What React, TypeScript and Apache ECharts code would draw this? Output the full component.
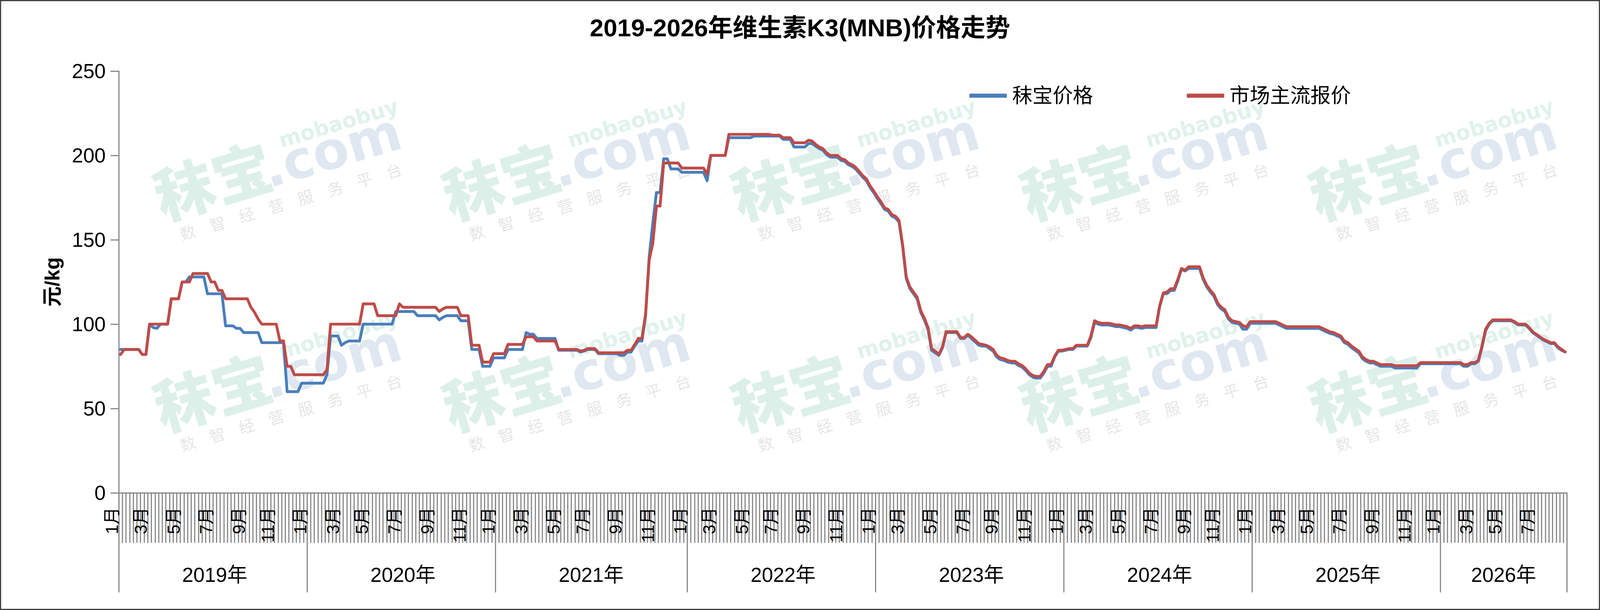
import React, { useEffect, useRef } from 'react';
import * as echarts from 'echarts';

const FONT = "'Liberation Sans', 'Noto Sans CJK SC', sans-serif";
const CJK = "'Noto Sans CJK SC', 'Liberation Sans', sans-serif";

const chartTitle = '2019-2026年维生素K3(MNB)价格走势';
const seriesNames = ['秣宝价格', '市场主流报价'];
const seriesColors = ['#4A7EBB', '#BE4B48'];
const yAxisName = '元/kg';
const yMin = 0;
const yMax = 250;
const yStep = 50;

const years = [2019, 2020, 2021, 2022, 2023, 2024, 2025, 2026];
const weeksPerYear = [52, 52, 53, 52, 52, 52, 52, 35];
const firstWeek = [2019, 0, 4]; // first weekly quote: 2019-01-04

// 市场主流报价 (weekly)
const market2019 = [82, 85, 85, 85, 85, 85, 82, 82, 100, 100, 100, 100, 100, 100, 115, 115, 115, 125, 125, 125, 130, 130, 130, 130, 130, 125, 125, 120, 120, 115, 115, 115, 115, 115, 115, 115, 110, 107, 103, 100, 100, 100, 100, 100, 90, 90, 75, 75, 70, 70, 70, 70];
const market2020 = [70, 70, 70, 70, 70, 73, 100, 100, 100, 100, 100, 100, 100, 100, 100, 112, 112, 112, 112, 105, 105, 105, 105, 105, 105, 112, 110, 110, 110, 110, 110, 110, 110, 110, 110, 110, 107.5, 109, 110, 110, 110, 110, 105, 105, 105, 87.5, 87.5, 87.5, 77.5, 77.5, 77.5, 82.5];
const market2021 = [82.5, 82.5, 82.5, 88, 88, 88, 88, 88, 92.5, 92.5, 92.5, 90, 90, 90, 90, 90, 90, 85, 85, 85, 85, 85, 85, 84, 84.5, 85.5, 85.5, 85.5, 83, 83, 83, 83, 83, 83, 83, 83, 84.5, 84.5, 88, 91.5, 91.5, 106, 138, 148, 170, 170, 195.5, 195.5, 195.5, 195.5, 195.5, 192.5, 192.5];
const market2022 = [192.5, 192.5, 192.5, 192.5, 192.5, 189, 200, 200, 200, 200, 200, 212.5, 212.5, 212.5, 212.5, 212.5, 212.5, 212.5, 212.5, 212.5, 212.5, 212.5, 212.5, 212, 212, 212, 210.5, 210.5, 210.5, 207.5, 207.5, 207.5, 207.5, 209, 208.5, 206.5, 205, 204, 201.5, 200, 200, 200, 198, 197.5, 195.5, 194.5, 193, 190.5, 188, 186, 182, 179];
const market2023 = [175.5, 172.5, 169, 168, 165, 164, 161.5, 147, 128, 122, 119, 116, 108, 103.5, 98, 85.5, 84, 82, 86.5, 95.5, 95.5, 95.5, 95.5, 92, 92, 94, 92.5, 90.5, 88.5, 88, 87.5, 86.5, 85, 81.5, 80, 79.5, 78.5, 78, 78, 76.5, 75.5, 73.5, 71, 69.5, 69, 69, 72, 76, 76, 81, 84.5, 84.5];
const market2024 = [85, 85.5, 85.5, 87.5, 87.5, 87.5, 87.5, 93, 102, 101, 100.5, 100.5, 100.5, 100, 99.5, 99.5, 99, 98.5, 97.5, 99, 99, 98.5, 99, 99, 99, 99, 111, 118.5, 119, 121, 121, 126.5, 133, 132, 134, 134, 134, 134, 127.5, 123, 120, 117.5, 112.5, 110, 108.5, 104, 102, 101.5, 101, 99, 98.5, 101.5];
const market2025 = [101.5, 101.5, 101.5, 101.5, 101.5, 101.5, 101.5, 100.5, 99.5, 98.5, 98.5, 98.5, 98.5, 98.5, 98.5, 98.5, 98.5, 98.5, 98.5, 97.5, 96.5, 95.5, 95, 94, 93, 90, 89, 87, 85.5, 84, 80.5, 79, 78, 78, 77, 76, 76, 76, 76, 75.3, 75.3, 75.3, 75.3, 75.3, 75.3, 75.3, 77.2, 77.2, 77.2, 77.2, 77.2, 77.2];
const market2026 = [77.2, 77.2, 77.2, 77.2, 77.2, 77.2, 76, 76, 77.2, 77.2, 78.5, 87, 97, 100.5, 102.5, 102.5, 102.5, 102.5, 102.5, 102.5, 101.5, 100, 100, 100, 98, 95.5, 94, 92.5, 91, 90, 89, 89, 86.5, 85, 83.5];

// 秣宝价格 (weekly)
const mobao2019 = [85, 85, 85, 85, 85, 85, 82, 82, 100, 98, 97.5, 100, 100, 100, 115, 115, 115, 125, 125, 128, 128, 128, 128, 128, 118, 118, 118, 118, 118, 99, 99, 99, 97.5, 97.5, 95, 95, 95, 95, 95, 89, 89, 89, 89, 89, 89, 89, 60, 60, 60, 60, 65, 65];
const mobao2020 = [65, 65, 65, 65, 65, 70, 93, 93, 93, 87.5, 89, 90, 90, 90, 90, 100, 100, 100, 100, 100, 100, 100, 100, 100, 107.5, 107.5, 107.5, 107.5, 107.5, 107.5, 105, 105, 105, 105, 105, 105, 102.5, 104, 105, 105, 105, 105, 102, 102, 102, 85, 85, 85, 75, 75, 75, 80];
const mobao2021 = [80, 80, 80, 85, 85, 85, 85, 85, 95, 94, 94, 91.5, 91.5, 91.5, 91.5, 91.5, 91.5, 84.5, 84.5, 84.5, 84.5, 84.5, 84.5, 83.5, 84, 85, 85, 85, 82.5, 82.5, 82.5, 82.5, 82.5, 82.5, 81.5, 81.5, 83.5, 83.5, 87, 90, 90, 105, 140, 160, 178, 178, 198, 198, 192, 192, 192, 190, 190];
const mobao2022 = [190, 190, 190, 190, 190, 185, 200, 200, 200, 200, 200, 210.5, 210.5, 210.5, 210.5, 210.5, 210.5, 210.5, 211.5, 211.5, 211.5, 211.5, 211.5, 211.5, 211.5, 211.5, 209.5, 209.5, 209.5, 205, 205, 205, 205, 207, 207, 205.5, 204, 203, 200.5, 199, 199, 199, 197, 196.5, 194.5, 193.5, 192, 189.5, 187, 185, 181, 178];
const mobao2023 = [174.5, 171.5, 168, 167, 164, 163, 160.5, 146, 127, 121, 118, 115, 107, 102.5, 97, 84.5, 83, 81.5, 86, 95, 95, 95, 95, 91.5, 91.5, 93.5, 91.5, 89.5, 87.5, 87, 87, 85.5, 84, 80.5, 79, 78.5, 77.5, 77, 77, 75.5, 74.5, 72.5, 70, 68.5, 68, 68, 71, 75, 75, 80.5, 84, 84];
const mobao2024 = [84.5, 85, 85, 87, 87, 87, 87, 92, 101, 100, 99.5, 99.5, 99.5, 99, 98.5, 98.5, 98, 97.5, 96.5, 98, 98, 97.5, 98, 98, 98, 98, 110.5, 118, 118, 120, 120, 125.5, 132.5, 131.5, 133, 133, 133, 133, 126.5, 122, 119, 116.5, 111.5, 109, 107.5, 103, 101, 100.5, 100, 97, 97, 100.5];
const mobao2025 = [100.5, 100.5, 100.5, 100.5, 100.5, 100.5, 100.5, 99.5, 98.5, 97.5, 97.5, 97.5, 97.5, 97.5, 97.5, 97.5, 97.5, 97.5, 97.5, 96.5, 95.5, 94.5, 94, 93, 92, 89, 88, 86, 84.5, 83, 79.5, 78, 77, 77, 76, 75, 75, 75, 75, 74, 74, 74, 74, 74, 74, 74, 76.5, 76.5, 76.5, 76.5, 76.5, 76.5];
const mobao2026 = [76.5, 76.5, 76.5, 76.5, 76.5, 76.5, 75, 75, 76.5, 76.5, 78, 86, 96, 100, 102, 102, 102, 102, 102, 102, 101, 99.5, 99.5, 99.5, 97.5, 95, 93.5, 92, 90.5, 89.5, 88.5, 88.5, 86, 84.5, 83.5];

const marketPrice = [
  ...market2019, ...market2020, ...market2021, ...market2022,
  ...market2023, ...market2024, ...market2025, ...market2026,
];
const mobaoPrice = [
  ...mobao2019, ...mobao2020, ...mobao2021, ...mobao2022,
  ...mobao2023, ...mobao2024, ...mobao2025, ...mobao2026,
];

// weekly category dates
const totalWeeks = weeksPerYear.reduce((a, b) => a + b, 0);
const weekDates: Date[] = [];
{
  const t0 = Date.UTC(firstWeek[0], firstWeek[1], firstWeek[2]);
  for (let i = 0; i < totalWeeks; i++) weekDates.push(new Date(t0 + i * 7 * 86400000));
}
const categories = weekDates.map((d) => d.toISOString().slice(0, 10));
const monthLabelIdx = new Set<number>();
weekDates.forEach((d, i) => {
  const m = d.getUTCMonth() + 1;
  if (d.getUTCDate() <= 7 && m % 2 === 1) monthLabelIdx.add(i);
});
const yearStartIdx = new Set<number>();
const yearMidIdx = new Map<number, number>();
{
  let s = 0;
  weeksPerYear.forEach((n, k) => {
    yearStartIdx.add(s);
    yearMidIdx.set(s + Math.floor(n / 2), years[k]);
    s += n;
  });
}

const W = 4270;
const H = 1562;

function watermark(cx: number, cy: number, f: number) {
  const small = ['数', '智', '经', '营', '服', '务', '平', '台'];
  const children: any[] = [
    {
      type: 'text', x: -318 * f, y: -60 * f, z: 0, silent: true,
      style: { text: '秣宝', fontSize: 160 * f, fontWeight: 900, fontFamily: CJK, fill: '#dcf0e9', align: 'left', verticalAlign: 'middle', textAlign: 'left', textVerticalAlign: 'middle' },
    },
    {
      type: 'text', x: -20 * f, y: -40 * f, z: 0, silent: true,
      style: { text: '.com', fontSize: 140 * f, fontWeight: 900, fontFamily: "'DejaVu Sans', sans-serif", fill: '#dfe8f1', align: 'left', verticalAlign: 'middle', textAlign: 'left', textVerticalAlign: 'middle' },
    },
    {
      type: 'text', x: 42 * f, y: -104 * f, z: 0, silent: true,
      style: { text: 'mobaobuy', fontSize: 56 * f, fontWeight: 'bold', fontFamily: "'DejaVu Sans', sans-serif", fill: '#dff2eb', align: 'left', verticalAlign: 'middle', textAlign: 'left', textVerticalAlign: 'middle' },
    },
  ];
  small.forEach((ch, k) => {
    children.push({
      type: 'text', x: (-262 + k * 82) * f, y: 58 * f, z: 0, silent: true,
      style: { text: ch, fontSize: 42 * f, fontFamily: CJK, fill: '#e6e6e6', align: 'center', verticalAlign: 'middle', textAlign: 'center', textVerticalAlign: 'middle' },
    });
  });
  return { type: 'group', x: cx, y: cy, rotation: 0.29, silent: true, z: 0, children };
}

export default function App() {
  const ref = useRef<HTMLDivElement>(null);
  useEffect(() => {
    document.body.style.margin = '0';
    document.body.style.overflow = 'hidden';
    document.documentElement.style.overflow = 'hidden';
    const el = ref.current;
    if (!el) return;
    const vw = window.innerWidth || W;
    const vh = window.innerHeight || H;
    el.style.width = vw + 'px';
    el.style.height = vh + 'px';
    const sx = vw / W;
    const sy = vh / H;
    const f = Math.min(sx, sy);
    const X = (v: number) => v * sx;
    const Y = (v: number) => v * sy;
    const F = (v: number) => v * f;

    const chart = echarts.init(el, undefined, { renderer: 'svg', width: vw, height: vh });
    const wm: any[] = [];
    [468, 1009].forEach((cy) => [735, 1506, 2277, 3048, 3819].forEach((cx) => wm.push(watermark(X(cx), Y(cy), f))));
    const axisGray = '#868686';
    const lw = Math.max(1, 3 * f);
    chart.setOption({
      animation: false,
      backgroundColor: '#ffffff',
      title: {
        text: chartTitle,
        left: 'center',
        top: Y(39),
        padding: 0,
        textStyle: { fontSize: F(66), fontWeight: 'bold', color: '#000', fontFamily: FONT, lineHeight: F(66) },
      },
      legend: {
        data: seriesNames,
        left: X(2587),
        top: Y(245) - F(27),
        padding: 0,
        itemWidth: X(100),
        itemHeight: F(11),
        itemGap: X(250),
        icon: 'roundRect',
        textStyle: { fontSize: F(54), color: '#000', fontFamily: FONT, lineHeight: F(54), padding: [0, 0, 0, X(9)] },
      },
      grid: { left: X(317), right: X(88), top: Y(182), bottom: Y(300), containLabel: false },
      graphic: [
        ...wm,
        {
          type: 'rect', z: 100, silent: true,
          shape: { x: lw / 2, y: lw / 2, width: vw - lw, height: vh - lw },
          style: { fill: 'none', stroke: '#404040', lineWidth: lw },
        },
      ],
      xAxis: [
        {
          type: 'category',
          data: categories,
          boundaryGap: true,
          position: 'bottom',
          axisLine: { show: true, lineStyle: { color: axisGray, width: lw } },
          axisTick: { show: true, interval: 0, length: Y(128), lineStyle: { color: axisGray, width: lw } },
          axisLabel: {
            show: true,
            interval: (i: number) => monthLabelIdx.has(i),
            formatter: (v: string) => `${parseInt(v.slice(5, 7), 10)}月`,
            rotate: 90,
            fontSize: F(46),
            lineHeight: F(46),
            verticalAlign: 'bottom',
            color: '#000',
            fontFamily: FONT,
            margin: Y(37),
          },
          splitLine: { show: false },
        },
        {
          type: 'category',
          data: categories,
          boundaryGap: true,
          position: 'bottom',
          offset: 0,
          axisLine: { show: false },
          axisTick: {
            show: true,
            interval: (i: number) => yearStartIdx.has(i),
            length: Y(255),
            lineStyle: { color: axisGray, width: lw },
          },
          axisLabel: {
            show: true,
            interval: (i: number) => yearMidIdx.has(i),
            formatter: (_v: string, i: number) => `${yearMidIdx.get(i)}年`,
            fontSize: F(54),
            lineHeight: F(54),
            color: '#000',
            fontFamily: FONT,
            margin: Y(184),
          },
          splitLine: { show: false },
        },
      ],
      yAxis: {
        type: 'value',
        min: yMin,
        max: yMax,
        interval: yStep,
        name: yAxisName,
        nameLocation: 'middle',
        nameRotate: 90,
        nameGap: X(150),
        nameTextStyle: { fontSize: F(54), fontWeight: 'bold', color: '#000', fontFamily: FONT },
        axisLine: { show: true, lineStyle: { color: axisGray, width: lw } },
        axisTick: { show: true, length: X(22), lineStyle: { color: axisGray, width: lw } },
        axisLabel: { fontSize: F(54), color: '#000', fontFamily: FONT, margin: X(35) },
        splitLine: { show: false },
      },
      series: [
        {
          name: seriesNames[0],
          type: 'line',
          data: mobaoPrice,
          symbol: 'none',
          z: 3,
          itemStyle: { color: seriesColors[0] },
          lineStyle: { color: seriesColors[0], width: F(7.5), cap: 'round', join: 'round' },
        },
        {
          name: seriesNames[1],
          type: 'line',
          data: marketPrice,
          symbol: 'none',
          z: 4,
          itemStyle: { color: seriesColors[1] },
          lineStyle: { color: seriesColors[1], width: F(7.5), cap: 'round', join: 'round' },
        },
      ],
    });
    return () => chart.dispose();
  }, []);
  return <div ref={ref} style={{ width: W, height: H }} />;
}
